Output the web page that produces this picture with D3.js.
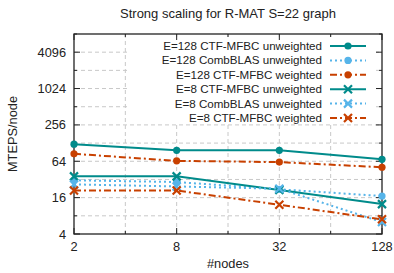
<!DOCTYPE html>
<html>
<head>
<meta charset="utf-8">
<script src="https://cdn.jsdelivr.net/npm/d3@7"></script>
<style>
  body { margin: 0; background: #fff; }
  svg { font-family: "Liberation Sans", Arial, sans-serif; }
</style>
</head>
<body>
<svg id="chart" width="394" height="273"></svg>
<script>
// chart values
const nodes = [2, 8, 32, 128];
const yTicks = [4, 16, 64, 256, 1024, 4096];
const e128CtfUnweighted = [123, 97, 97, 69];
const e128CombUnweighted = [31, 29, 22, 17];
const e128CtfWeighted = [85, 65, 62, 51];
const e8CtfUnweighted = [36, 36, 21.5, 12.5];
const e8CombUnweighted = [26.5, 24.5, 22.5, 6.3];
const e8CtfWeighted = [21, 21, 12.2, 7];

const series = [
  { name: 'E=128 CTF-MFBC unweighted', values: e128CtfUnweighted, color: '#008b8b', dash: null, marker: 'circle' },
  { name: 'E=128 CombBLAS unweighted', values: e128CombUnweighted, color: '#56b4e9', dash: '2,3', marker: 'circle' },
  { name: 'E=128 CTF-MFBC weighted', values: e128CtfWeighted, color: '#c84000', dash: '7,3,2,3', marker: 'circle' },
  { name: 'E=8 CTF-MFBC unweighted', values: e8CtfUnweighted, color: '#008b8b', dash: null, marker: 'cross' },
  { name: 'E=8 CombBLAS unweighted', values: e8CombUnweighted, color: '#56b4e9', dash: '2,3', marker: 'cross' },
  { name: 'E=8 CTF-MFBC weighted', values: e8CtfWeighted, color: '#c84000', dash: '7,3,2,3', marker: 'cross' }
];

const svg = d3.select('#chart');
const margin = { left: 74, right: 12, top: 34, bottom: 39 };
const W = 394, H = 273;

const x = d3.scaleLog().base(2).domain([2, 128]).range([margin.left, W - margin.right]);
const y = d3.scaleLog().base(2).domain([4, 8192]).range([H - margin.bottom, margin.top]);

const allX = d3.range(1, 8).map(p => 2 ** p);
const allY = d3.range(2, 14).map(p => 2 ** p);

// grid
const grid = svg.append('g').attr('stroke', '#c8c8c8').attr('stroke-width', 1).attr('stroke-dasharray', '4,3');
grid.selectAll('.gx').data(allX.slice(1, -1)).enter().append('line')
  .attr('x1', d => x(d)).attr('x2', d => x(d))
  .attr('y1', y.range()[0]).attr('y2', y.range()[1]);
grid.selectAll('.gy').data(allY.slice(1, -1)).enter().append('line')
  .attr('y1', d => y(d)).attr('y2', d => y(d))
  .attr('x1', x.range()[0]).attr('x2', x.range()[1]);

// opaque legend background
svg.append('rect').attr('x', 128).attr('y', 37).attr('width', 248).attr('height', 87).attr('fill', '#fff');

// axes (gnuplot-like inward ticks, mirrored)
const ax = svg.append('g').attr('stroke', '#222').attr('stroke-width', 1);
const x0 = x.range()[0], x1 = x.range()[1], y0 = y.range()[0], y1 = y.range()[1];
allY.forEach(v => {
  const len = yTicks.includes(v) ? 6 : 3;
  ax.append('line').attr('x1', x0).attr('x2', x0 + len).attr('y1', y(v)).attr('y2', y(v));
  ax.append('line').attr('x1', x1).attr('x2', x1 - len).attr('y1', y(v)).attr('y2', y(v));
});
allX.forEach(v => {
  const len = nodes.includes(v) ? 6 : 3;
  ax.append('line').attr('y1', y0).attr('y2', y0 - len).attr('x1', x(v)).attr('x2', x(v));
  ax.append('line').attr('y1', y1).attr('y2', y1 + len).attr('x1', x(v)).attr('x2', x(v));
});
svg.append('rect').attr('x', x0).attr('y', y1).attr('width', x1 - x0).attr('height', y0 - y1)
  .attr('fill', 'none').attr('stroke', '#222').attr('stroke-width', 1.3);

// tick labels
svg.append('g').selectAll('text').data(yTicks).enter().append('text')
  .attr('x', x0 - 8).attr('y', d => y(d) + 4.5).attr('text-anchor', 'end')
  .attr('font-size', 12.8).attr('fill', '#222').text(d => d);
svg.append('g').selectAll('text').data(nodes).enter().append('text')
  .attr('x', d => x(d)).attr('y', y0 + 17).attr('text-anchor', 'middle')
  .attr('font-size', 12.8).attr('fill', '#222').text(d => d);

// titles
svg.append('text').attr('x', (x0 + x1) / 2).attr('y', 18).attr('text-anchor', 'middle')
  .attr('font-size', 13).attr('fill', '#222').text('Strong scaling for R-MAT S=22 graph');
svg.append('text').attr('x', (x0 + x1) / 2).attr('y', 268).attr('text-anchor', 'middle')
  .attr('font-size', 12.8).attr('fill', '#222').text('#nodes');
svg.append('text').attr('transform', `translate(17,${(y0 + y1) / 2}) rotate(-90)`)
  .attr('text-anchor', 'middle').attr('font-size', 12.8).attr('fill', '#222').text('MTEPS/node');

function drawMarker(g, type, cx, cy, color) {
  if (type === 'circle') {
    g.append('circle').attr('cx', cx).attr('cy', cy).attr('r', 3.6).attr('fill', color);
  } else {
    const s = 4;
    g.append('path').attr('d', `M${cx - s},${cy - s}L${cx + s},${cy + s}M${cx - s},${cy + s}L${cx + s},${cy - s}`)
      .attr('stroke', color).attr('stroke-width', 2.2).attr('fill', 'none');
  }
}

const line = d3.line().x(d => x(d[0])).y(d => y(d[1]));

// legend + series
const legendRight = 322, sampleX0 = 330, sampleX1 = 366;
series.forEach((s, i) => {
  const g = svg.append('g');
  const pts = nodes.map((n, j) => [n, s.values[j]]);
  g.append('path').datum(pts).attr('d', line)
    .attr('fill', 'none').attr('stroke', s.color).attr('stroke-width', 2)
    .attr('stroke-dasharray', s.dash);
  pts.forEach(p => drawMarker(g, s.marker, x(p[0]), y(p[1]), s.color));

  const ly = 46 + i * 14.4;
  svg.append('text').attr('x', legendRight).attr('y', ly + 4).attr('text-anchor', 'end')
    .attr('font-size', 11.6).attr('fill', '#222').text(s.name);
  svg.append('line').attr('x1', sampleX0).attr('x2', sampleX1).attr('y1', ly).attr('y2', ly)
    .attr('stroke', s.color).attr('stroke-width', 2).attr('stroke-dasharray', s.dash);
  drawMarker(svg, s.marker, (sampleX0 + sampleX1) / 2, ly, s.color);
});
</script>
</body>
</html>
